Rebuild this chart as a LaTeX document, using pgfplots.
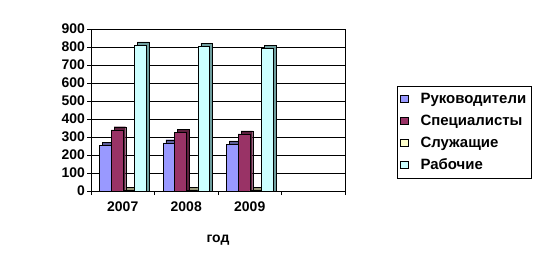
\documentclass[border=0pt]{standalone}
\usepackage{pgfplots}
\pgfplotsset{compat=1.18}
\usepackage{fontspec}
\setmainfont{Liberation Sans}
\definecolor{cA}{HTML}{9999FF}
\definecolor{cB}{HTML}{993366}
\definecolor{cC}{HTML}{FFFFCC}
\definecolor{cD}{HTML}{CCFFFF}
\definecolor{dA}{HTML}{5C5C99}
\definecolor{dB}{HTML}{5C1F3D}
\definecolor{dC}{HTML}{99997A}
\definecolor{dD}{HTML}{6E9E9E}
\begin{document}
\begin{tikzpicture}
\useasboundingbox (0,0) rectangle (540bp,271bp);
\begin{axis}[
  at={(91bp,80bp)}, anchor=south west,
  scale only axis, width=254bp, height=162bp,
  xmin=-0.5, xmax=3.5, ymin=0, ymax=900,
  ytick={0,100,...,900},
  xtick={0,1,2}, xticklabels={2007,2008,2009},
  minor xtick={-0.5,0.5,1.5,2.5,3.5},
  major x tick style={draw=none},
  minor x tick style={black},
  tick align=outside, xtick pos=bottom, ytick pos=left,
  major tick length=4bp, minor tick length=4bp,
  ymajorgrids, grid style={black, line width=0.6pt},
  axis line style={black, line width=0.6pt},
  tick style={black, line width=0.6pt},
  /pgf/number format/assume math mode=true,
  ticklabel style={font=\bfseries\fontsize{14}{16}\selectfont},
  yticklabel style={xshift=1.5bp},
  xticklabel style={yshift=-3bp},
  xlabel={год}, xlabel style={font=\bfseries\fontsize{14}{16}\selectfont, yshift=-17bp},
  legend style={at={(1.205,0.648)}, anchor=north west, draw=black, line width=0.6pt,
    font=\bfseries\fontsize{15}{16}\selectfont, row sep=0bp, inner xsep=3bp, inner ysep=2bp,
    nodes={text height=11bp, text depth=3bp, inner ysep=4bp},
    cells={anchor=west}},
  legend image code/.code={\draw[#1, draw=black, line width=0.5pt] (0bp,-3.4bp) rectangle (7.5bp,4.1bp); \path[draw=none, fill=none] (0bp,0bp) -- (18bp,0bp);},
]
% depth faces (pseudo 3D)
\addplot[ybar, bar width=0.183, bar shift=-0.2275, fill=dA, draw=black, line width=0.4pt, forget plot] coordinates {(0,272) (1,285) (2,278)};
\addplot[ybar, bar width=0.183, bar shift=-0.0445, fill=dB, draw=black, line width=0.4pt, forget plot] coordinates {(0,357) (1,341) (2,334)};
\addplot[ybar, bar width=0.183, bar shift=0.1385, fill=dC, draw=black, line width=0.4pt, forget plot] coordinates {(0,20) (1,20) (2,20)};
\addplot[ybar, bar width=0.183, bar shift=0.3215, fill=dD, draw=black, line width=0.4pt, forget plot] coordinates {(0,828) (1,822) (2,810)};
% front faces
\addplot[ybar, bar width=0.183, bar shift=-0.2745, fill=cA, draw=black, line width=0.4pt] coordinates {(0,255) (1,268) (2,261)};
\addlegendentry{Руководители}
\addplot[ybar, bar width=0.183, bar shift=-0.0915, fill=cB, draw=black, line width=0.4pt] coordinates {(0,340) (1,324) (2,317)};
\addlegendentry{Специалисты}
\addplot[ybar, bar width=0.183, bar shift=0.0915, fill=cC, draw=black, line width=0.4pt] coordinates {(0,5) (1,5) (2,5)};
\addlegendentry{Служащие}
\addplot[ybar, bar width=0.183, bar shift=0.2745, fill=cD, draw=black, line width=0.4pt] coordinates {(0,811) (1,805) (2,793)};
\addlegendentry{Рабочие}
\end{axis}
\end{tikzpicture}
\end{document}
